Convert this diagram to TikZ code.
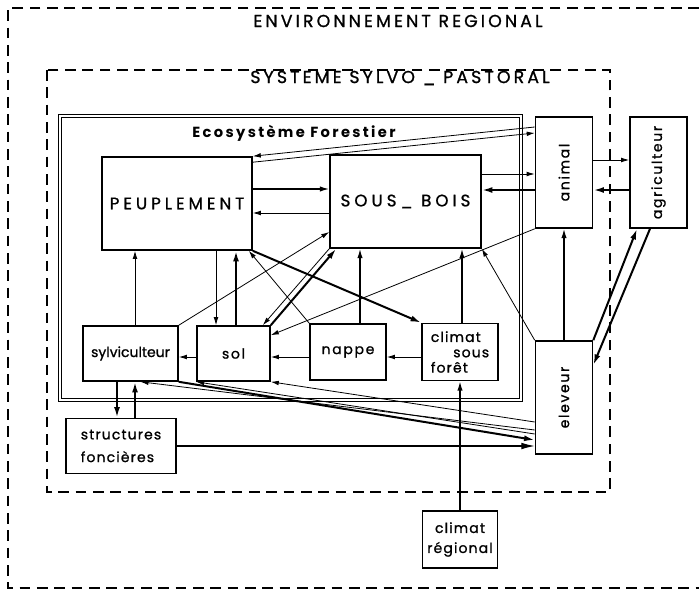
\documentclass[tikz,border=0pt]{standalone}
\usepackage{fontspec}
\usepackage{graphicx}
\setmainfont{Poppins}
\usetikzlibrary{arrows.meta,calc}

\tikzset{every picture/.style={line width=0.75pt}}

\begin{document}
\begin{tikzpicture}[x=0.75pt,y=0.75pt,yscale=-1,xscale=1,
	boite/.style={draw, line width=1.2pt, inner sep=0pt, align=center, font=\fontsize{10.5}{12}\selectfont\addfontfeature{LetterSpace=12,FakeBold=1}},
	grand/.style={font=\fontsize{12.5}{14}\selectfont\addfontfeature{LetterSpace=24,FakeBold=1}},
	titre/.style={inner sep=0.75pt, font=\fontsize{13}{15}\selectfont\addfontfeature{LetterSpace=18,FakeBold=1}},
	cadre/.style={line width=1.1pt, dash pattern=on 8pt off 5pt},
	fin/.style={line width=0.6pt, -{Latex[length=6pt,width=3.5pt]}},
	moy/.style={line width=1pt, -{Latex[length=7pt,width=4pt]}},
	gros/.style={line width=1.5pt, -{Latex[length=8pt,width=4.5pt]}}]
	\useasboundingbox (0,0) rectangle (699,592);
	
	%cadres
	\draw [cadre] (699,8) -- (8,8) -- (8,588) -- (699,588);
	\draw [cadre] (47,70) rectangle (610,492);
	\draw [double, double distance=1.6pt, line width=0.9pt] (60,116) rectangle (521,400);
	
	\node [titre] (env) at (398,21) {ENVIRONNEMENT REGIONAL};
	\node [titre] (sys) at (400,78) {SYSTEME SYLVO \_ PASTORAL};
	\node [titre, font=\fontsize{11}{13}\selectfont\bfseries\addfontfeature{LetterSpace=16}] (eco) at (294,133) {Ecosystème Forestier};
	
	%boites
	\node [boite, grand, minimum width=112.5pt, minimum height=69.75pt] (peup) at (177,203.5) {PEUPLEMENT};
	\node [boite, grand, minimum width=113.25pt, minimum height=69.75pt] (sousbois) at (405.5,201.5) {SOUS\_ BOIS};
	\node [boite, minimum width=42.75pt, minimum height=83.25pt] (animal) at (564,172.5) {\rotatebox{90}{animal}};
	\node [boite, minimum width=42.75pt, minimum height=83.25pt] (agri) at (658.5,172.5) {\rotatebox{90}{agriculteur}};
	\node [boite, minimum width=71.25pt, minimum height=41.25pt, font=\fontsize{10.5}{12}\selectfont\addfontfeature{FakeBold=1}] (sylvi) at (130.5,353.5) {sylviculteur};
	\node [boite, minimum width=54.75pt, minimum height=41.25pt] (sol) at (233.5,353.5) {sol};
	\node [boite, minimum width=57pt, minimum height=42pt] (nappe) at (348,352) {nappe};
	\node [boite, minimum width=57pt, minimum height=42.75pt, align=left, font=\fontsize{10.5}{11.5}\selectfont\addfontfeature{LetterSpace=8,FakeBold=1}] (climsf) at (460,352) {climat\\\hspace*{1.6em}sous\\forêt};
	\node [boite, minimum width=42.75pt, minimum height=84.75pt] (eleveur) at (564,397.5) {\rotatebox{90}{eleveur}};
	\node [boite, minimum width=82.5pt, minimum height=41.25pt, align=left, font=\fontsize{10.5}{12}\selectfont\addfontfeature{LetterSpace=8,FakeBold=1}] (struct) at (121,446) {structures\\[5pt]foncières};
	\node [boite, minimum width=56.25pt, minimum height=42.75pt, font=\fontsize{10.5}{12}\selectfont\addfontfeature{LetterSpace=8,FakeBold=1}] (climreg) at (460,539.5) {climat\\[3pt]régional};
	
	%fleches haut
	\draw [fin] ($(animal.west)+(0,-45.5)$) -- (peup.north east);
	\draw [fin] ($(peup.north east)+(0,6)$) -- ($(animal.west)+(0,-39.5)$);
	\draw [moy] ($(peup.east)+(0,-14.5)$) -- ($(sousbois.west)+(0,-12.5)$);
	\draw [fin] ($(sousbois.west)+(0,11.5)$) -- ($(peup.east)+(0,9.5)$);
	\draw [fin] ($(sousbois.east)+(0,-27.5)$) -- ($(animal.west)+(0,1.5)$);
	\draw [gros] ($(animal.west)+(0,17.5)$) -- ($(sousbois.east)+(0,-11.5)$);
	\draw [fin] ($(animal.east)+(0,-12.5)$) -- ($(agri.west)+(0,-12.5)$);
	\draw [gros] ($(agri.west)+(0,17.5)$) -- ($(animal.east)+(0,17.5)$);
	
	%eleveur
	\draw [moy] (eleveur.north) -- (animal.south);
	\draw [gros] (eleveur.north east) -- ($(agri.south)+(-21.5,0)$);
	\draw [gros] ($(agri.south)+(-8.5,0)$) -- ($(eleveur.east)+(0,-32.5)$);
	\draw [fin] (animal.south west) -- ($(sol.north east)+(0,10)$);
	\draw [fin] (eleveur.north west) -- (sousbois.south east);
	
	%verticales
	\draw [moy] ($(nappe.north)+(12,0)$) -- ($(sousbois.south)+(-45.5,0)$);
	\draw [moy] ($(climsf.north)+(2,0)$) -- ($(sousbois.south)+(56.5,0)$);
	\draw [fin] ($(sylvi.north)+(4.5,0)$) -- ($(peup.south)+(-42,0)$);
	\draw [fin] ($(peup.south)+(39,0)$) -- ($(sol.north)+(-17.5,0)$);
	\draw [gros] ($(sol.north)+(2.5,0)$) -- ($(peup.south)+(59,0)$);
	
	%diagonales
	\draw [fin] (nappe.north west) -- ($(peup.south east)+(-4,0)$);
	\draw [gros] (peup.south east) -- (climsf.north west);
	\draw [fin] (sylvi.north east) -- ($(sousbois.west)+(0,30.5)$);
	\draw [fin] (sousbois.south west) -- ($(sol.north east)+(-8,0)$);
	\draw [gros] (sol.north east) -- ($(sousbois.south west)+(7,0)$);
	
	%ligne du bas
	\draw [fin] ($(climsf.west)+(0,5)$) -- ($(nappe.east)+(0,5)$);
	\draw [fin] ($(nappe.west)+(0,5)$) -- ($(sol.east)+(0,3.5)$);
	\draw [fin] ($(sol.west)+(0,3.5)$) -- ($(sylvi.east)+(0,3.5)$);
	\draw [moy] (climreg.north) -- (climsf.south);
	\draw [gros] ($(sylvi.south)+(-13.5,0)$) -- ($(struct.north)+(-4,0)$);
	\draw [gros] ($(struct.north)+(14,0)$) -- ($(sylvi.south)+(4.5,0)$);
	\draw [line width=0.8pt, -{Latex[length=10pt,width=5pt]}] (struct.east) -- ($(eleveur.west)+(0,48.5)$);
	
	%vers eleveur
	\draw [fin] ($(eleveur.west)+(0,24.5)$) -- (sol.south east);
	\draw [fin] ($(eleveur.west)+(0,32.5)$) -- ($(sylvi.south)+(10,0)$);
	\draw [fin] ($(eleveur.west)+(0,36.5)$) -- (sol.south west);
	\draw [gros] (sylvi.south east) -- ($(eleveur.west)+(0,42.5)$);
	
\end{tikzpicture}
\end{document}
